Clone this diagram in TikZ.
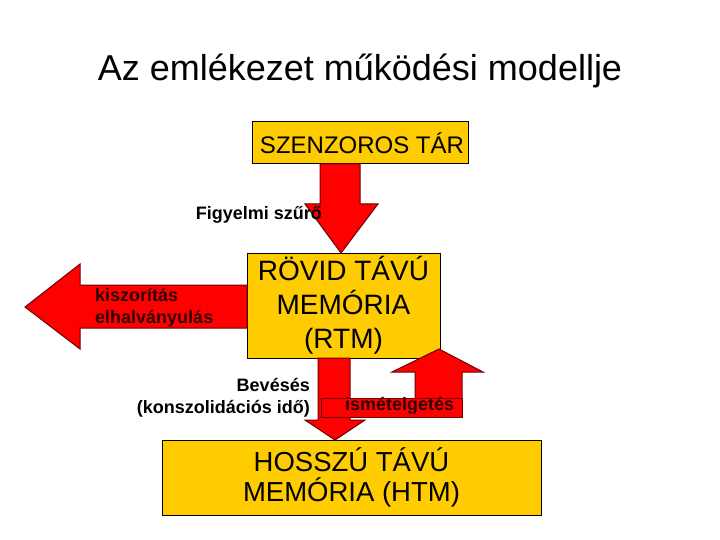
\documentclass[tikz,border=0pt]{standalone}
\usepackage{fontspec}
\setmainfont{Liberation Sans}
\definecolor{boxyellow}{RGB}{255,204,0}
\definecolor{arrowred}{RGB}{255,0,0}
\definecolor{edgered}{RGB}{110,0,0}
\definecolor{darktext}{RGB}{45,0,0}
\begin{document}
\begin{tikzpicture}[x=1pt,y=-1pt,
  box/.style={draw=black, line width=1pt, fill=boxyellow, inner sep=0pt, align=center},
  blockarrow/.style={fill=arrowred, draw=edgered, line width=1pt, line join=miter},
  lbl/.style={font=\bfseries\fontsize{18}{21.5}\selectfont, inner sep=0pt}]
\useasboundingbox (0,0) rectangle (720,540);
\fill[white] (0,0) rectangle (720,540);
% title
\node[font=\fontsize{36}{40}\selectfont, anchor=base, inner sep=0pt] (title) at (360,81) {Az emlékezet működési modellje};
% boxes
\node[box, minimum width=216pt, minimum height=42pt, font=\fontsize{24}{30}\selectfont] (szt) at (360,143) {\hspace*{4pt}SZENZOROS TÁR};
\node[box, minimum width=193pt, minimum height=105pt, font=\fontsize{28}{34}\selectfont] (rtm) at (343.5,305.5) {RÖVID TÁVÚ\\MEMÓRIA\\(RTM)};
\node[box, minimum width=379pt, minimum height=75pt, font=\fontsize{27.5}{30}\selectfont] (htm) at (351.5,477.5) {HOSSZÚ TÁVÚ\\MEMÓRIA (HTM)};
% arrow: szenzoros -> rtm
\draw[blockarrow] (320,164) -- (360,164) -- (360,204) -- (378,204) -- (341,253) -- (305,204) -- (320,204) -- cycle;
% arrow: rtm -> left (kiszoritas)
\draw[blockarrow] (247,285) -- (80,285) -- (80,264) -- (25,307) -- (80,349) -- (80,328) -- (247,328) -- cycle;
% arrow: rtm -> htm (beveses)
\draw[blockarrow] (318,358) -- (350,358) -- (350,420) -- (365,420) -- (335,440) -- (305,420) -- (318,420) -- cycle;
% arrow: htm -> rtm (ismetelgetes)
\draw[blockarrow] (415,417) -- (415,372) -- (392,372) -- (439,349) -- (483,372) -- (462,372) -- (462,417) -- cycle;
% ismetelgetes label band
\draw[blockarrow] (321,398) rectangle (462,417);
\node[lbl, text=darktext, anchor=base west] (ism) at (345,410) {ismételgetés};
% labels
\node[lbl, anchor=base east] (figy) at (322,219) {Figyelmi szűrő};
\node[lbl, text=darktext, anchor=west, align=left] (kisz) at (95,308) {kiszorítás\\elhalványulás};
\node[lbl, anchor=east, align=right] (bev) at (310,398) {Bevésés\\(konszolidációs idő)};
\end{tikzpicture}
\end{document}
